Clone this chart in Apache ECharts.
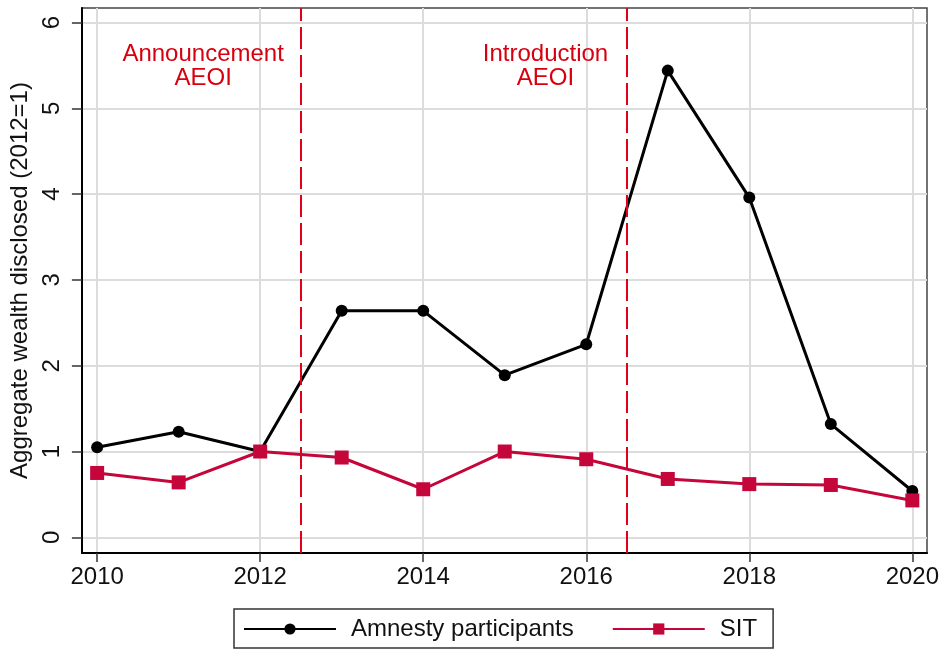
<!DOCTYPE html>
<html>
<head>
    <meta charset="utf-8">
    <title>Aggregate wealth disclosed</title>
    <script src="https://cdn.jsdelivr.net/npm/echarts@6/dist/echarts.min.js"></script>
    <style>
        html, body { margin: 0; padding: 0; background: #fff; }
        #main { width: 943px; height: 655px; }
    </style>
</head>
<body>
<div id="main"></div>
<script type="text/javascript">
// data
var years = [2010, 2011, 2012, 2013, 2014, 2015, 2016, 2017, 2018, 2019, 2020];
var amnesty = [1.05, 1.23, 1.0, 2.64, 2.64, 1.89, 2.25, 5.44, 3.96, 1.32, 0.54];
var sit = [0.75, 0.64, 1.0, 0.93, 0.56, 1.0, 0.91, 0.68, 0.62, 0.61, 0.43];
var xTicks = [2010, 2012, 2014, 2016, 2018, 2020];
var yTicks = [0, 1, 2, 3, 4, 5, 6];
var eventLines = [2012.5, 2016.5];
var eventLabels = ['Announcement\nAEOI', 'Introduction\nAEOI'];
var eventLabelPos = [[2011.3, 5.49], [2015.5, 5.49]];

function pairs(xs, ys) {
    var out = [];
    for (var i = 0; i < xs.length; i++) {
        out.push([xs[i], ys[i]]);
    }
    return out;
}

var font = 'Liberation Sans, Arial, sans-serif';
var myChart = echarts.init(document.getElementById('main'));

var option = {
    animation: false,
    backgroundColor: '#fff',
    textStyle: { fontFamily: font },
    grid: {
        left: 80, right: 16, top: 8, bottom: 102,
        show: true, borderColor: '#444', borderWidth: 1.5
    },
    legend: {
        left: 234, top: 609,
        padding: [8, 16, 7, 9],
        itemGap: 38,
        itemWidth: 92, itemHeight: 14,
        borderColor: '#333', borderWidth: 1.5,
        textStyle: { fontSize: 24, color: '#111', fontFamily: font, padding: [0, 0, 0, 10] },
        data: ['Amnesty participants', 'SIT']
    },
    xAxis: {
        type: 'value',
        min: 2009.813, max: 2020.18,
        axisLine: { show: true, onZero: false, lineStyle: { color: '#000', width: 2 } },
        axisTick: { show: true, length: 9, customValues: xTicks, lineStyle: { color: '#333', width: 1.5 } },
        axisLabel: {
            customValues: xTicks, margin: 12, fontSize: 24, color: '#111', fontFamily: font,
            formatter: function (v) { return String(v); }
        },
        splitLine: { show: true, lineStyle: { color: '#dcdcdc', width: 2 } }
    },
    yAxis: {
        type: 'value',
        min: -0.183, max: 6.17,
        name: 'Aggregate wealth disclosed (2012=1)',
        nameLocation: 'middle',
        nameGap: 46,
        nameTextStyle: { fontSize: 24, color: '#111', fontFamily: font },
        axisLine: { show: true, onZero: false, lineStyle: { color: '#000', width: 2 } },
        axisTick: { show: true, length: 10, customValues: yTicks, lineStyle: { color: '#333', width: 1.5 } },
        axisLabel: { customValues: yTicks, rotate: 90, margin: 18, fontSize: 24, color: '#111', fontFamily: font },
        splitLine: { show: true, lineStyle: { color: '#dcdcdc', width: 2 } }
    },
    series: [
        {
            name: 'Amnesty participants',
            type: 'line',
            data: pairs(years, amnesty),
            symbol: 'circle',
            symbolSize: 12,
            z: 4,
            itemStyle: { color: '#000' },
            lineStyle: { color: '#000', width: 3 },
            markLine: {
                silent: true,
                symbol: ['none', 'none'],
                label: { show: false },
                lineStyle: { color: '#e0001a', width: 2, type: [22, 6] },
                data: eventLines.map(function (v) { return { xAxis: v }; })
            },
            markPoint: {
                silent: true,
                symbol: 'circle',
                symbolSize: 0,
                label: {
                    show: true,
                    position: 'inside',
                    align: 'center',
                    fontSize: 24,
                    lineHeight: 24,
                    color: '#d8000f',
                    fontFamily: font
                },
                data: eventLabels.map(function (t, i) {
                    return { coord: eventLabelPos[i], value: t, label: { formatter: t } };
                })
            }
        },
        {
            name: 'SIT',
            type: 'line',
            data: pairs(years, sit),
            symbol: 'rect',
            symbolSize: 14,
            z: 5,
            itemStyle: { color: '#c4063a' },
            lineStyle: { color: '#c4063a', width: 3 }
        }
    ]
};

myChart.setOption(option);
</script>
</body>
</html>
